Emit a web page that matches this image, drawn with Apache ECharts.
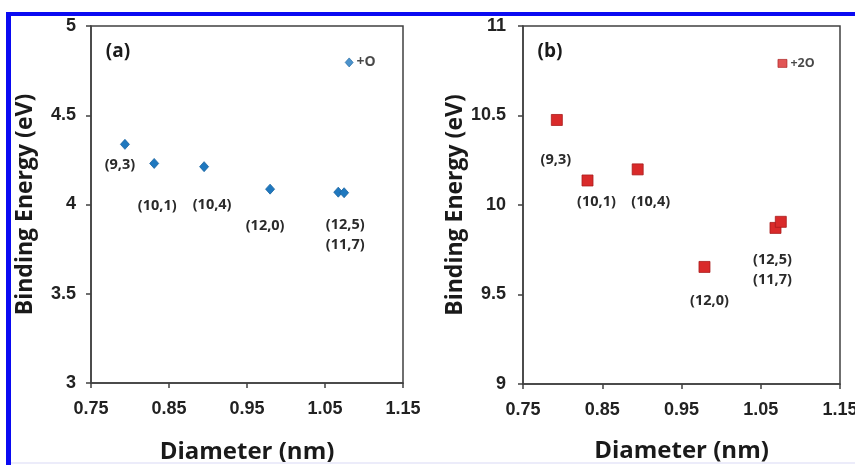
<!DOCTYPE html>
<html><head><meta charset="utf-8">
<script src="https://cdn.jsdelivr.net/npm/echarts@6/dist/echarts.min.js"></script>
<style>html,body{margin:0;padding:0;background:#fff}#c{width:855px;height:465px}</style>
</head><body><div id="c"></div>
<script>
// ---- data ----
const tubeLabels = ['(9,3)', '(10,1)', '(10,4)', '(12,0)', '(12,5)\n(11,7)', ''];
const diamA = [0.7935, 0.831, 0.895, 0.9796, 1.067, 1.0745];
const energyA = [4.337, 4.230, 4.212, 4.086, 4.069, 4.066];
const oxyA = { label: '+O', d: 1.081, e: 4.796 };
const diamB = [0.7927, 0.8314, 0.8947, 0.979, 1.0686, 1.0753];
const energyB = [10.475, 10.137, 10.199, 9.654, 9.872, 9.906];
const oxyB = { label: '+2O', d: 1.0774, e: 10.791 };
const xTicks = [0.75, 0.85, 0.95, 1.05, 1.15];
const yTicksA = [3, 3.5, 4, 4.5, 5];
const yTicksB = [9, 9.5, 10, 10.5, 11];

// ---- layout (label offsets relative to marker) ----
const offA = [[-5, 21], [3, 42], [8, 38], [-5, 37], [7, 43], [0, 0]];
const offB = [[-1, 40], [9, 21], [13, 32], [5, 34], [-3, 42], [0, 0]];

const tickFont = { fontFamily: "'Liberation Sans Narrow', 'Liberation Sans', Arial, sans-serif", fontWeight: 'bold', fontSize: 18, color: '#222' };
const titleFont = { fontFamily: "'Open Sans', sans-serif", fontWeight: 'bold', color: '#1a1a1a' };
const lblFont = { fontFamily: "'Open Sans', sans-serif", fontWeight: 'bold', fontSize: 14.5, color: '#2a2a2a' };

function xAxis(idx, gap) {
  return {
    gridIndex: idx, type: 'value', min: 0.75, max: 1.15, interval: 0.1,
    name: 'Diameter (nm)', nameLocation: 'middle', nameGap: gap,
    nameTextStyle: Object.assign({ fontSize: 24 }, titleFont),
    axisLine: { show: true, lineStyle: { color: '#404040', width: 1.5 } },
    axisTick: { show: true, inside: false, length: 5, lineStyle: { color: '#404040', width: 1.5 } },
    axisLabel: Object.assign({ margin: 17, formatter: v => xTicks.find(t => Math.abs(t - v) < 1e-6)?.toFixed(2) ?? '' }, tickFont),
    splitLine: { show: false }
  };
}
function yAxis(idx, ticks, margin) {
  return {
    gridIndex: idx, type: 'value', min: ticks[0], max: ticks[ticks.length - 1], interval: 0.5,
    name: 'Binding Energy (eV)', nameLocation: 'middle', nameGap: 54,
    nameTextStyle: Object.assign({ fontSize: 23 }, titleFont),
    axisLine: { show: true, lineStyle: { color: '#404040', width: 1.5 } },
    axisTick: { show: true, inside: false, length: 5, lineStyle: { color: '#404040', width: 1.5 } },
    axisLabel: Object.assign({ margin: margin, formatter: v => String(+v.toFixed(2)) }, tickFont),
    splitLine: { show: false }
  };
}
function tubeSeries(idx, xs, ys, offs, symbol, size, color, border) {
  return {
    type: 'scatter', xAxisIndex: idx, yAxisIndex: idx, symbol: symbol, symbolSize: size,
    itemStyle: { color: color, borderColor: border, borderWidth: 0.8, opacity: 1 },
    data: xs.map((x, i) => ({
      value: [x, ys[i]],
      label: { show: tubeLabels[i] !== '', position: 'inside', offset: offs[i], formatter: tubeLabels[i] }
    })),
    label: Object.assign({ lineHeight: 20, align: 'center' }, lblFont),
    z: 3
  };
}
function oxySeries(idx, o, symbol, size, color, border, fs) {
  return {
    type: 'scatter', xAxisIndex: idx, yAxisIndex: idx, symbol: symbol, symbolSize: size,
    itemStyle: { color: color, borderColor: border, borderWidth: 0.8 },
    data: [{ value: [o.d, o.e] }],
    label: { show: true, position: 'right', distance: 3, formatter: o.label,
      fontFamily: "'Open Sans', sans-serif", fontWeight: 'bold', fontSize: fs, color: '#1a1a1a' },
    z: 3
  };
}

const chart = echarts.init(document.getElementById('c'), null, { renderer: 'canvas' });
chart.setOption({
  animation: false,
  backgroundColor: '#ffffff',
  grid: [
    { left: 91, right: 452, top: 26, bottom: 82, show: true, borderColor: '#404040', borderWidth: 1.5, backgroundColor: 'transparent', containLabel: false, outerBoundsMode: 'none' },
    { left: 523, right: 15, top: 26, bottom: 81, show: true, borderColor: '#404040', borderWidth: 1.5, backgroundColor: 'transparent', containLabel: false, outerBoundsMode: 'none' }
  ],
  xAxis: [xAxis(0, 57), xAxis(1, 55)],
  yAxis: [yAxis(0, yTicksA, 15), yAxis(1, yTicksB, 17)],
  series: [
    tubeSeries(0, diamA, energyA, offA, 'diamond', [9, 10], '#1f78bf', '#1a64a0'),
    oxySeries(0, oxyA, 'diamond', [8, 9], '#1f78bf', '#1a64a0', 14),
    tubeSeries(1, diamB, energyB, offB, 'rect', 11, '#d92a2a', '#a81c1c'),
    oxySeries(1, oxyB, 'rect', [9, 8], '#d92a2a', '#a81c1c', 12.5)
  ],
  graphic: [
    { type: 'rect', shape: { x: 6, y: 12, width: 849, height: 4 }, style: { fill: '#0a0af2' }, z: 10 },
    { type: 'rect', shape: { x: 6, y: 12, width: 5, height: 453 }, style: { fill: '#0a0af2' }, z: 10 },
    { type: 'rect', shape: { x: 11, y: 462, width: 844, height: 2 }, style: { fill: '#ececfa' }, z: 10 },
    { type: 'text', x: 118, y: 52, style: { text: '(a)', fontFamily: "'Open Sans', sans-serif", fontWeight: 'bold', fontSize: 19, fill: '#1a1a1a', align: 'center', verticalAlign: 'middle' } },
    { type: 'text', x: 550, y: 52, style: { text: '(b)', fontFamily: "'Open Sans', sans-serif", fontWeight: 'bold', fontSize: 19, fill: '#1a1a1a', align: 'center', verticalAlign: 'middle' } }
  ]
});
</script></body></html>
